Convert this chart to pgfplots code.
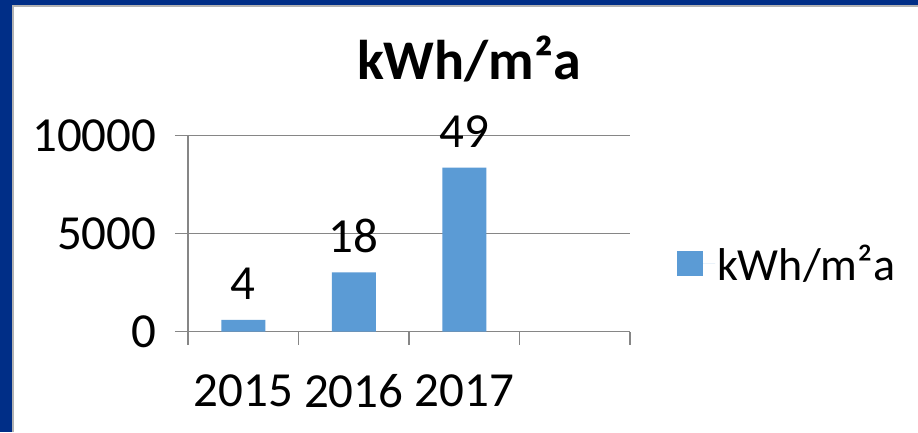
\documentclass[border=0pt]{standalone}
\usepackage{fontspec}
\setmainfont{Carlito}
\usepackage{pgfplots}
\pgfplotsset{compat=1.18}
\definecolor{frameblue}{RGB}{0,46,135}
\definecolor{barblue}{RGB}{91,155,213}
\definecolor{gridgray}{RGB}{134,134,134}
\newcommand{\bigfont}{\fontsize{46}{52}\selectfont}
\newcommand{\numfont}{\fontsize{49}{55}\selectfont}
\begin{document}
\begin{tikzpicture}[x=1pt,y=1pt]
% slide frame
\fill[frameblue] (0,0) rectangle (918,432);
\fill[gray!60] (12,0) rectangle (918,427);
\fill[white] (14,0) rectangle (918,425);
\node[font=\fontsize{56}{62}\selectfont\bfseries, anchor=base] at (469,352) {kWh/m²a};
\begin{axis}[
    at={(188pt,100.3pt)}, anchor=south west,
    scale only axis, width=442pt, height=196pt,
    xmin=0, xmax=4, ymin=0, ymax=10000,
    clip=false,
    axis x line*=bottom, axis y line*=left,
    axis line style={-, gridgray, line width=1.3pt},
    tick style={gridgray, line width=1.3pt},
    major tick length=13pt, tick align=outside,
    ymajorgrids, grid style={gridgray, line width=1.3pt},
    ytick={0,5000,10000},
    yticklabel style={xshift=-15pt},
    xtick={0,1,2,3,4}, xticklabels={,,,,},
    extra x ticks={0.5,1.5,2.5},
    extra x tick labels={2015,2016,2017},
    extra x tick style={major tick length=0pt, grid=none,
        xticklabel style={yshift=-39pt}},
    scaled y ticks=false,
    /pgf/number format/1000 sep={},
    /pgf/number format/assume math mode=true,
    ticklabel style={font=\numfont},
    ybar, bar width=44pt,
    nodes near coords, point meta=explicit symbolic,
    every node near coord/.append style={font=\numfont, anchor=base, yshift=20pt, inner sep=0pt},
    legend style={draw=none, fill=none, at={(axis description cs:1.106,0.348)},
        anchor=west, font=\bigfont, inner sep=0pt},
]
\addplot[fill=barblue, draw=none,
    legend image code/.code={%
        \path (-12pt,0pt) -- (26pt,0pt);
        \fill[barblue] (-12pt,-12.5pt) rectangle (14pt,12.5pt);}]
    coordinates {(0.5,600) [4] (1.5,3030) [18] (2.5,8370) [49]};
\addlegendentry{kWh/m²a}
\end{axis}
\end{tikzpicture}
\end{document}
